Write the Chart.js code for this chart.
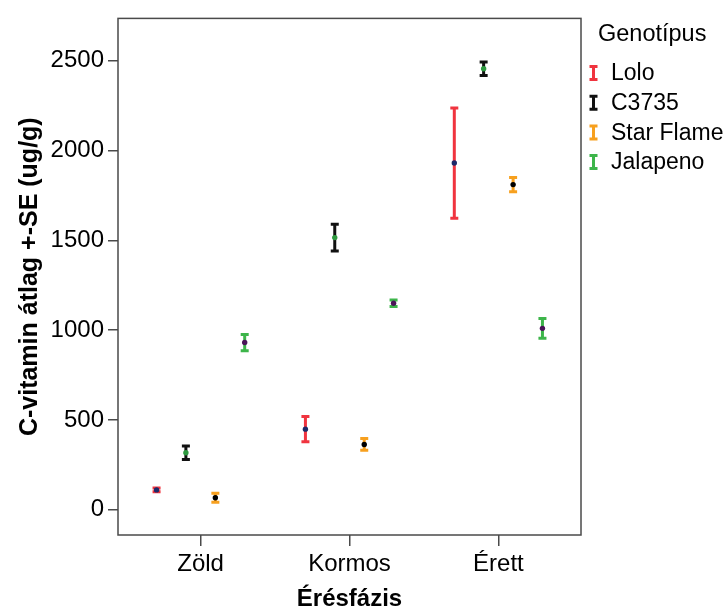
<!DOCTYPE html>
<html>
<head>
<meta charset="utf-8">
<script src="https://cdn.jsdelivr.net/npm/chart.js@4.4.1/dist/chart.umd.min.js"></script>
<style>
  html, body { margin: 0; padding: 0; background: #fff; }
  #wrap { width: 726px; height: 614px; }
</style>
</head>
<body>
<div id="wrap"><canvas id="chart" width="726" height="614"></canvas></div>
<script>
// Vitamin C mean +- SE per ripening phase and genotype

const categories = ['Zöld', 'Kormos', 'Érett'];
const seriesNames = ['Lolo', 'C3735', 'Star Flame', 'Jalapeno'];

const loloMeans = [111, 449, 1930];
const loloSE = [10, 70, 307];
const c3735Means = [318, 1515, 2455];
const c3735SE = [38, 75, 38];
const starFlameMeans = [67, 364, 1810];
const starFlameSE = [25, 33, 40];
const jalapenoMeans = [931, 1150, 1010];
const jalapenoSE = [45, 18, 55];

const yTicks = [0, 500, 1000, 1500, 2000, 2500];
const legendTitle = 'Genotípus';
const xTitle = 'Érésfázis';
const yTitle = 'C-vitamin átlag +-SE (ug/g)';

// styling
const barColors = ['#F0343F', '#111111', '#F7A01E', '#3DB54A'];
const dotColors = ['#1C2A6A', '#2E9A40', '#000000', '#4A1458'];
const groupOffsets = [-0.296, -0.099, 0.099, 0.296];
const axisColor = '#4a4a4a';
const fontFamily = '"Liberation Sans", Arial, sans-serif';

const allMeans = [loloMeans, c3735Means, starFlameMeans, jalapenoMeans];
const allSE = [loloSE, c3735SE, starFlameSE, jalapenoSE];

const datasets = seriesNames.map((name, i) => ({
    label: name,
    data: categories.map((c, j) => ({ x: j + groupOffsets[i], y: allMeans[i][j], se: allSE[i][j] })),
    barColor: barColors[i],
    pointRadius: 2.7,
    pointBorderWidth: 0,
    pointBackgroundColor: dotColors[i],
    borderColor: dotColors[i],
    showLine: false
}));

// Draw the SE whiskers under the mean dots
const errorBarPlugin = {
    id: 'errorBars',
    beforeDatasetsDraw(chart) {
        const ctx = chart.ctx;
        const yScale = chart.scales.y;
        chart.data.datasets.forEach((ds, i) => {
            const meta = chart.getDatasetMeta(i);
            ctx.save();
            ctx.strokeStyle = ds.barColor;
            ctx.lineWidth = 3;
            meta.data.forEach((pt, j) => {
                const d = ds.data[j];
                const top = yScale.getPixelForValue(d.y + d.se);
                const bottom = yScale.getPixelForValue(d.y - d.se);
                ctx.beginPath();
                ctx.moveTo(pt.x, top);
                ctx.lineTo(pt.x, bottom);
                ctx.moveTo(pt.x - 4, top);
                ctx.lineTo(pt.x + 4, top);
                ctx.moveTo(pt.x - 4, bottom);
                ctx.lineTo(pt.x + 4, bottom);
                ctx.stroke();
            });
            ctx.restore();
        });
    }
};

// Frame round the plot area and the legend on the right
const framePlugin = {
    id: 'frameLegend',
    afterDraw(chart) {
        const ctx = chart.ctx;
        const a = chart.chartArea;
        ctx.save();
        ctx.strokeStyle = axisColor;
        ctx.lineWidth = 1.5;
        ctx.strokeRect(a.left, a.top, a.right - a.left, a.bottom - a.top);

        ctx.fillStyle = '#000';
        ctx.font = '23.5px ' + fontFamily;
        ctx.textBaseline = 'middle';
        ctx.textAlign = 'left';
        ctx.fillText(legendTitle, 598, 35);

        ctx.font = '23px ' + fontFamily;
        chart.data.datasets.forEach((ds, i) => {
            const y = 73 + i * 29.7;
            const x = 593.5;
            ctx.strokeStyle = ds.barColor;
            ctx.lineWidth = 3;
            ctx.beginPath();
            ctx.moveTo(x, y - 6.5);
            ctx.lineTo(x, y + 6.5);
            ctx.moveTo(x - 4, y - 6.5);
            ctx.lineTo(x + 4, y - 6.5);
            ctx.moveTo(x - 4, y + 6.5);
            ctx.lineTo(x + 4, y + 6.5);
            ctx.stroke();
            ctx.fillStyle = '#000';
            ctx.fillText(ds.label, 611, y + 1);
        });
        ctx.restore();
    }
};

new Chart(document.getElementById('chart'), {
    type: 'scatter',
    data: { datasets: datasets },
    options: {
        responsive: false,
        animation: false,
        layout: { padding: { top: 13, right: 145, left: 0, bottom: 0 } },
        plugins: {
            legend: { display: false },
            tooltip: { enabled: false }
        },
        scales: {
            x: {
                type: 'linear',
                min: -0.555,
                max: 2.555,
                afterBuildTicks: function(scale) {
                    scale.ticks = categories.map((c, i) => ({ value: i }));
                },
                afterFit: function(scale) { scale.height = 79; },
                border: { display: false },
                grid: {
                    drawOnChartArea: false,
                    drawTicks: true,
                    tickLength: 11,
                    color: axisColor,
                    lineWidth: 1.5
                },
                ticks: {
                    autoSkip: false,
                    maxRotation: 0,
                    padding: 4,
                    color: '#000',
                    font: { family: fontFamily, size: 24 },
                    callback: function(value) { return categories[value]; }
                },
                title: {
                    display: true,
                    text: xTitle,
                    color: '#000',
                    padding: { top: 0, bottom: 0 },
                    font: { family: fontFamily, size: 24, weight: 'bold' }
                }
            },
            y: {
                min: -140,
                max: 2735,
                afterBuildTicks: function(scale) {
                    scale.ticks = yTicks.map(v => ({ value: v }));
                },
                afterFit: function(scale) { scale.width = 118; },
                border: { display: false },
                grid: {
                    drawOnChartArea: false,
                    drawTicks: true,
                    tickLength: 10,
                    color: axisColor,
                    lineWidth: 1.5
                },
                ticks: {
                    padding: 4,
                    color: '#000',
                    font: { family: fontFamily, size: 24 },
                    callback: function(value) { return String(value); }
                },
                title: {
                    display: true,
                    text: yTitle,
                    color: '#000',
                    padding: { top: 15, bottom: 0 },
                    font: { family: fontFamily, size: 25, weight: 'bold' }
                }
            }
        }
    },
    plugins: [errorBarPlugin, framePlugin]
});
</script>
</body>
</html>
